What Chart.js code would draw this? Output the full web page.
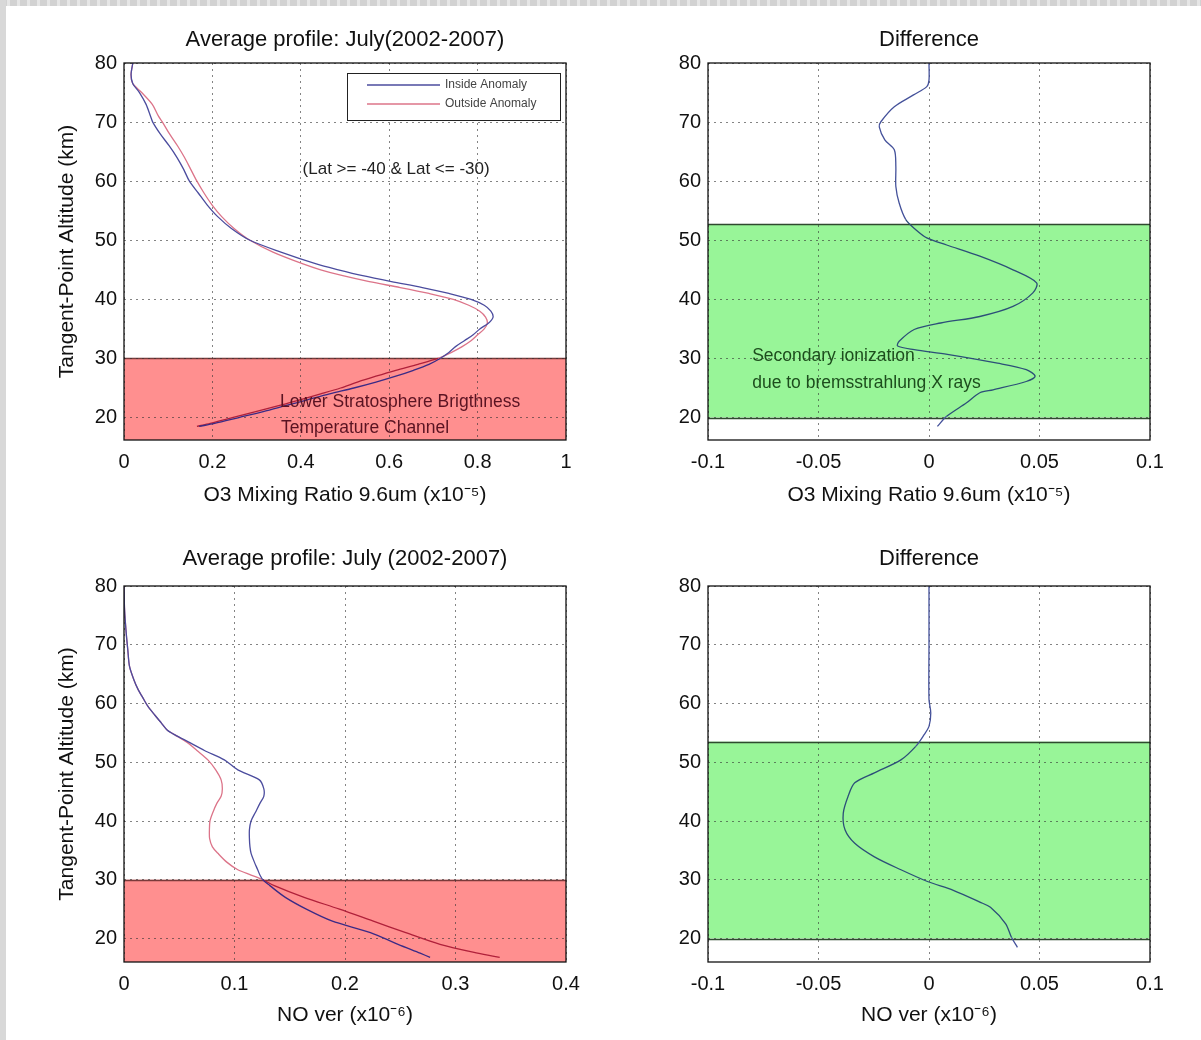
<!DOCTYPE html>
<html lang="en">
<head>
<meta charset="utf-8">
<title>Average profile: July (2002-2007)</title>
<script src="https://cdn.jsdelivr.net/npm/chart.js@4.4.1/dist/chart.umd.min.js"></script>
<style>
  html, body { margin: 0; padding: 0; background: #fff; }
  body { width: 1201px; height: 1040px; position: relative; overflow: hidden; }
  .edge-top { position: absolute; left: 0; top: 0; width: 1201px; height: 6px;
    background: repeating-linear-gradient(90deg, #d2d2d2 0 7px, #e6e6e6 7px 10px); }
  .edge-left { position: absolute; left: 0; top: 0; width: 6px; height: 1040px; background: #d8d8d8; }
  .panel { position: absolute; width: 600px; height: 520px; }
  .panel canvas { display: block; }
</style>
</head>
<body>
<div class="edge-top"></div>
<div class="edge-left"></div>
<div class="panel" style="left:0;top:0"><canvas id="o3Profile" width="600" height="520"></canvas></div>
<div class="panel" style="left:600px;top:0"><canvas id="o3Diff" width="600" height="520"></canvas></div>
<div class="panel" style="left:0;top:520px"><canvas id="noProfile" width="600" height="520"></canvas></div>
<div class="panel" style="left:600px;top:520px"><canvas id="noDiff" width="600" height="520"></canvas></div>

<script>
// --- O3 profile (top left), altitude in km, mixing ratio x1e-5 ---
const o3Alt = [80, 78, 76.5, 75, 73, 71, 70, 68, 66, 64, 62, 60, 58, 56, 54, 52, 50, 48, 46, 45, 44, 43, 42, 41, 40,
  39, 38, 37, 36, 35, 34, 33, 32, 31, 30, 29, 28, 27, 26, 25, 24, 23, 22, 21, 20, 19, 18.5];
const o3Inside = [0.020, 0.016, 0.020, 0.035, 0.050, 0.060, 0.065, 0.082, 0.102, 0.120, 0.135, 0.148, 0.168, 0.188,
  0.212, 0.243, 0.285, 0.355, 0.435, 0.485, 0.540, 0.605, 0.675, 0.735, 0.785,
  0.815, 0.830, 0.835, 0.825, 0.805, 0.790, 0.770, 0.750, 0.735, 0.715, 0.690, 0.655, 0.615, 0.570, 0.520,
  0.465, 0.415, 0.365, 0.315, 0.260, 0.205, 0.170];
const o3Outside = [0.020, 0.016, 0.020, 0.040, 0.064, 0.078, 0.087, 0.103, 0.121, 0.137, 0.151, 0.165, 0.181, 0.199,
  0.221, 0.249, 0.285, 0.337, 0.405, 0.445, 0.495, 0.555, 0.625, 0.690, 0.745,
  0.780, 0.805, 0.818, 0.822, 0.815, 0.800, 0.785, 0.765, 0.740, 0.710, 0.665, 0.615, 0.570, 0.528, 0.490,
  0.445, 0.398, 0.350, 0.298, 0.245, 0.195, 0.165];

// --- O3 difference (top right) ---
const o3DiffAlt = [80, 77.1, 76, 74.6, 72.6, 70.1, 69.2, 67, 65.3, 62.5, 59.1, 56.3, 53.5, 51.8, 50.4, 49.2, 47.3, 45,
  42.8, 41.1, 38.8, 37.1, 36, 34.9, 32.9, 32.1, 31.5, 30.7, 29.2, 28.1, 27, 26.1, 24.7, 24.2, 22.5, 20.2, 18.5];
const o3Diff = [0.000, 0.000, -0.001, -0.007, -0.0157, -0.0217, -0.0225, -0.020, -0.0157, -0.015, -0.015, -0.0135,
  -0.0105, -0.006, -0.001, 0.008, 0.023, 0.038, 0.0487, 0.047, 0.038, 0.023, 0.0053, -0.0067, -0.0135, -0.0142,
  -0.0067, 0.0083, 0.031, 0.044, 0.048, 0.044, 0.029, 0.023, 0.017, 0.008, 0.0038];

// --- NO ver profile (bottom left), x1e-6 ---
const noAlt = [80, 76, 72, 69, 66.3, 64, 62.4, 61, 59.5, 58, 56.7, 55.5, 54.7, 53.3, 52, 50.4, 48.7, 47, 45.5, 44.2,
  43, 41.5, 40, 38.5, 37, 35.6, 34.5, 33, 31.7, 30.8, 30, 29, 27, 25, 23, 21, 19, 17.5, 16.8];
const noInside = [0.000, 0.0005, 0.002, 0.0035, 0.005, 0.009, 0.0127, 0.017, 0.0217, 0.028, 0.0337, 0.039, 0.0457,
  0.060, 0.0728, 0.0908, 0.103, 0.1225, 0.1265, 0.1265, 0.123, 0.119, 0.115, 0.1135, 0.1135, 0.114, 0.115, 0.118,
  0.121, 0.123, 0.1256, 0.132, 0.146, 0.165, 0.188, 0.223, 0.248, 0.268, 0.277];
const noOutside = [0.000, 0.0005, 0.002, 0.0035, 0.005, 0.009, 0.0127, 0.017, 0.0217, 0.028, 0.0337, 0.039, 0.0457,
  0.0578, 0.066, 0.0759, 0.083, 0.0879, 0.089, 0.0879, 0.084, 0.0805, 0.0778, 0.0773, 0.0775, 0.080, 0.085, 0.093,
  0.103, 0.115, 0.1256, 0.136, 0.163, 0.195, 0.225, 0.255, 0.286, 0.320, 0.340];

// --- NO ver difference (bottom right) ---
const noDiffAlt = [80, 70, 60.7, 58.4, 56.1, 54.7, 52.7, 50.4, 48.2, 46.5, 44.2, 41.3, 38.5, 36.2, 33.9, 31.7, 29.7,
  28.2, 26.2, 25.3, 22.5, 20.2, 18.5];
const noDiff = [0.000, 0.000, 0.000, 0.0008, 0.000, -0.0022, -0.006, -0.0127, -0.0247, -0.0336, -0.0366, -0.0388,
  -0.038, -0.0336, -0.0247, -0.0127, -0.0007, 0.011, 0.023, 0.0278, 0.0347, 0.0373, 0.040];

// --- axis ticks and shaded altitude bands ---
const altTicks = [20, 30, 40, 50, 60, 70, 80];
const o3Ticks = [0, 0.2, 0.4, 0.6, 0.8, 1];
const noTicks = [0, 0.1, 0.2, 0.3, 0.4];
const diffTicks = [-0.1, -0.05, 0, 0.05, 0.1];
const o3Band = [16.2, 30];
const noBand = [16, 30];
const o3DiffBand = [20, 52.7];
const noDiffBand = [20, 53.5];

const FONT = "'Liberation Sans', Arial, Helvetica, sans-serif";
Chart.defaults.font.family = FONT;
Chart.defaults.color = '#111';

// lines look darker where they cross the shaded band
const BLUE = '#4b4c9e';
const BLUE_IN_BAND = '#3a2a86';
const RED = '#dc7489';
const RED_IN_BAND = '#b0203a';
const DIFF = '#44519a';
const DIFF_IN_BAND = '#2c4f78';
const PINK = '#ff8f8f';
const GREEN = '#98f598';

function toPoints(alts, vals) {
  return alts.map((a, i) => ({ x: vals[i], y: a }));
}

// bands, notes, legend and the box around the axes
const decorPlugin = {
  id: 'decor',
  beforeDraw(chart, args, opts) {
    const band = opts.band;
    if (!band) return;
    const { ctx, chartArea: a, scales: { y } } = chart;
    const top = y.getPixelForValue(band.range[1]);
    const bottom = y.getPixelForValue(band.range[0]);
    ctx.save();
    ctx.fillStyle = band.color;
    ctx.fillRect(a.left, top, a.right - a.left, bottom - top);
    ctx.strokeStyle = band.edge;
    ctx.lineWidth = 1.5;
    band.range.forEach(v => {
      if (v <= y.min) return;
      const py = Math.round(y.getPixelForValue(v)) + 0.5;
      ctx.beginPath();
      ctx.moveTo(a.left, py);
      ctx.lineTo(a.right, py);
      ctx.stroke();
    });
    ctx.restore();
  },
  afterDatasetsDraw(chart, args, opts) {
    const { ctx, chartArea: a, scales: { x, y } } = chart;
    ctx.save();
    ctx.beginPath();
    ctx.rect(a.left, a.top, a.right - a.left, a.bottom - a.top);
    ctx.clip();
    (opts.notes || []).forEach(n => {
      ctx.font = `${n.size}px ${FONT}`;
      ctx.fillStyle = n.color;
      ctx.textAlign = 'left';
      ctx.textBaseline = 'middle';
      ctx.fillText(n.text, x.getPixelForValue(n.x), y.getPixelForValue(n.y));
    });
    ctx.restore();

    if (opts.legend) {
      const w = 213, h = 47;
      const left = a.right - 6 - w, top = a.top + 10;
      ctx.save();
      ctx.fillStyle = '#fff';
      ctx.fillRect(left, top, w, h);
      ctx.strokeStyle = '#222';
      ctx.lineWidth = 1;
      ctx.strokeRect(left + 0.5, top + 0.5, w, h);
      chart.data.datasets.forEach((ds, i) => {
        const ly = top + 12 + i * 19;
        ctx.strokeStyle = ds.borderColor;
        ctx.lineWidth = 1.5;
        ctx.beginPath();
        ctx.moveTo(left + 20, ly);
        ctx.lineTo(left + 93, ly);
        ctx.stroke();
        ctx.font = `12px ${FONT}`;
        ctx.fillStyle = '#444';
        ctx.textAlign = 'left';
        ctx.textBaseline = 'middle';
        ctx.fillText(ds.label, left + 98, ly);
      });
      ctx.restore();
    }
  },
  afterDraw(chart) {
    const { ctx, chartArea: a } = chart;
    ctx.save();
    ctx.strokeStyle = '#111';
    ctx.lineWidth = 1.3;
    ctx.strokeRect(a.left, a.top, a.right - a.left, a.bottom - a.top);
    ctx.restore();
  }
};

function makeChart(id, cfg) {
  const ctx = document.getElementById(id).getContext('2d');
  const [bandLo, bandHi] = cfg.band.range;
  return new Chart(ctx, {
    type: 'scatter',
    data: {
      datasets: cfg.series.map(s => ({
        label: s.label,
        data: s.data,
        showLine: true,
        borderColor: s.color,
        backgroundColor: s.color,
        borderWidth: 1.3,
        pointRadius: 0,
        tension: 0.3,
        segment: {
          borderColor: c => {
            const mid = (c.p0.parsed.y + c.p1.parsed.y) / 2;
            return (mid >= bandLo && mid <= bandHi) ? s.bandColor : s.color;
          }
        }
      }))
    },
    options: {
      responsive: false,
      animation: false,
      layout: { padding: { left: 0, right: cfg.padRight, top: 0, bottom: 0 } },
      plugins: {
        legend: { display: false },
        tooltip: { enabled: false },
        title: {
          display: true,
          text: cfg.title,
          fullSize: false,
          color: '#111',
          font: { size: 22, weight: 'normal' },
          padding: cfg.titlePad
        },
        decor: { band: cfg.band, notes: cfg.notes, legend: cfg.legend }
      },
      scales: {
        x: {
          type: 'linear',
          min: cfg.xTicks[0],
          max: cfg.xTicks[cfg.xTicks.length - 1],
          afterBuildTicks: axis => { axis.ticks = cfg.xTicks.map(v => ({ value: v })); },
          afterFit: axis => { axis.height = cfg.xAxisHeight; },
          ticks: { font: { size: 20 }, color: '#111', padding: 10, maxRotation: 0, callback: v => String(v) },
          grid: { color: 'rgba(50,50,50,0.6)', lineWidth: 1, drawTicks: false },
          border: { display: false, dash: [2, 4] },
          title: { display: true, text: cfg.xTitle, font: { size: 21 }, color: '#111', padding: { top: 0, bottom: 12.4 } }
        },
        y: {
          type: 'linear',
          min: cfg.yMin,
          max: 80,
          afterBuildTicks: axis => { axis.ticks = altTicks.map(v => ({ value: v })); },
          afterFit: axis => { axis.width = cfg.yAxisWidth; },
          ticks: { font: { size: 20 }, color: '#111', padding: 7, callback: v => String(v) },
          grid: { color: 'rgba(50,50,50,0.6)', lineWidth: 1, drawTicks: false },
          border: { display: false, dash: [2, 4] },
          title: {
            display: !!cfg.yTitle,
            text: cfg.yTitle || '',
            font: { size: 21 },
            color: '#111',
            padding: { top: 54.4, bottom: 0 }
          }
        }
      }
    },
    plugins: [decorPlugin]
  });
}

document.addEventListener('DOMContentLoaded', () => {
  const topPad = { top: 26.8, bottom: 9.8 };
  const bottomPad = { top: 25.8, bottom: 13.8 };

  // 1. O3 average profiles
  makeChart('o3Profile', {
    title: 'Average profile: July(2002-2007)',
    titlePad: topPad,
    xTitle: 'O3 Mixing Ratio 9.6um (x10\u207B\u2075)',
    yTitle: 'Tangent-Point Altitude (km)',
    xTicks: o3Ticks,
    yMin: o3Band[0],
    yAxisWidth: 124, padRight: 34, xAxisHeight: 80,
    series: [
      { label: 'Inside Anomaly', data: toPoints(o3Alt, o3Inside), color: BLUE, bandColor: BLUE_IN_BAND },
      { label: 'Outside Anomaly', data: toPoints(o3Alt, o3Outside), color: RED, bandColor: RED_IN_BAND }
    ],
    band: { range: o3Band, color: PINK, edge: '#7a3a3a' },
    legend: true,
    notes: [
      { text: '(Lat >= -40 & Lat <= -30)', x: 0.404, y: 62, size: 17, color: '#222' },
      { text: 'Lower Stratosphere Brigthness', x: 0.353, y: 22.6, size: 17.5, color: '#5a1322' },
      { text: 'Temperature Channel', x: 0.355, y: 18.2, size: 17.5, color: '#5a1322' }
    ]
  });

  // 2. O3 difference
  makeChart('o3Diff', {
    title: 'Difference',
    titlePad: topPad,
    xTitle: 'O3 Mixing Ratio 9.6um (x10\u207B\u2075)',
    xTicks: diffTicks,
    yMin: o3Band[0],
    yAxisWidth: 108, padRight: 50, xAxisHeight: 80,
    series: [{ label: 'Difference', data: toPoints(o3DiffAlt, o3Diff), color: DIFF, bandColor: DIFF_IN_BAND }],
    band: { range: o3DiffBand, color: GREEN, edge: '#2f4a2f' },
    notes: [
      { text: 'Secondary ionization', x: -0.080, y: 30.4, size: 17.5, color: '#1d4d1d' },
      { text: 'due to bremsstrahlung X rays', x: -0.080, y: 25.8, size: 17.5, color: '#1d4d1d' }
    ]
  });

  // 3. NO ver average profiles
  makeChart('noProfile', {
    title: 'Average profile: July (2002-2007)',
    titlePad: bottomPad,
    xTitle: 'NO ver (x10\u207B\u2076)',
    yTitle: 'Tangent-Point Altitude (km)',
    xTicks: noTicks,
    yMin: noBand[0],
    yAxisWidth: 124, padRight: 34, xAxisHeight: 78,
    series: [
      { label: 'Inside Anomaly', data: toPoints(noAlt, noInside), color: BLUE, bandColor: BLUE_IN_BAND },
      { label: 'Outside Anomaly', data: toPoints(noAlt, noOutside), color: RED, bandColor: RED_IN_BAND }
    ],
    band: { range: noBand, color: PINK, edge: '#7a3a3a' }
  });

  // 4. NO ver difference
  makeChart('noDiff', {
    title: 'Difference',
    titlePad: bottomPad,
    xTitle: 'NO ver (x10\u207B\u2076)',
    xTicks: diffTicks,
    yMin: noBand[0],
    yAxisWidth: 108, padRight: 50, xAxisHeight: 78,
    series: [{ label: 'Difference', data: toPoints(noDiffAlt, noDiff), color: DIFF, bandColor: DIFF_IN_BAND }],
    band: { range: noDiffBand, color: GREEN, edge: '#2f4a2f' }
  });
});
</script>
</body>
</html>
